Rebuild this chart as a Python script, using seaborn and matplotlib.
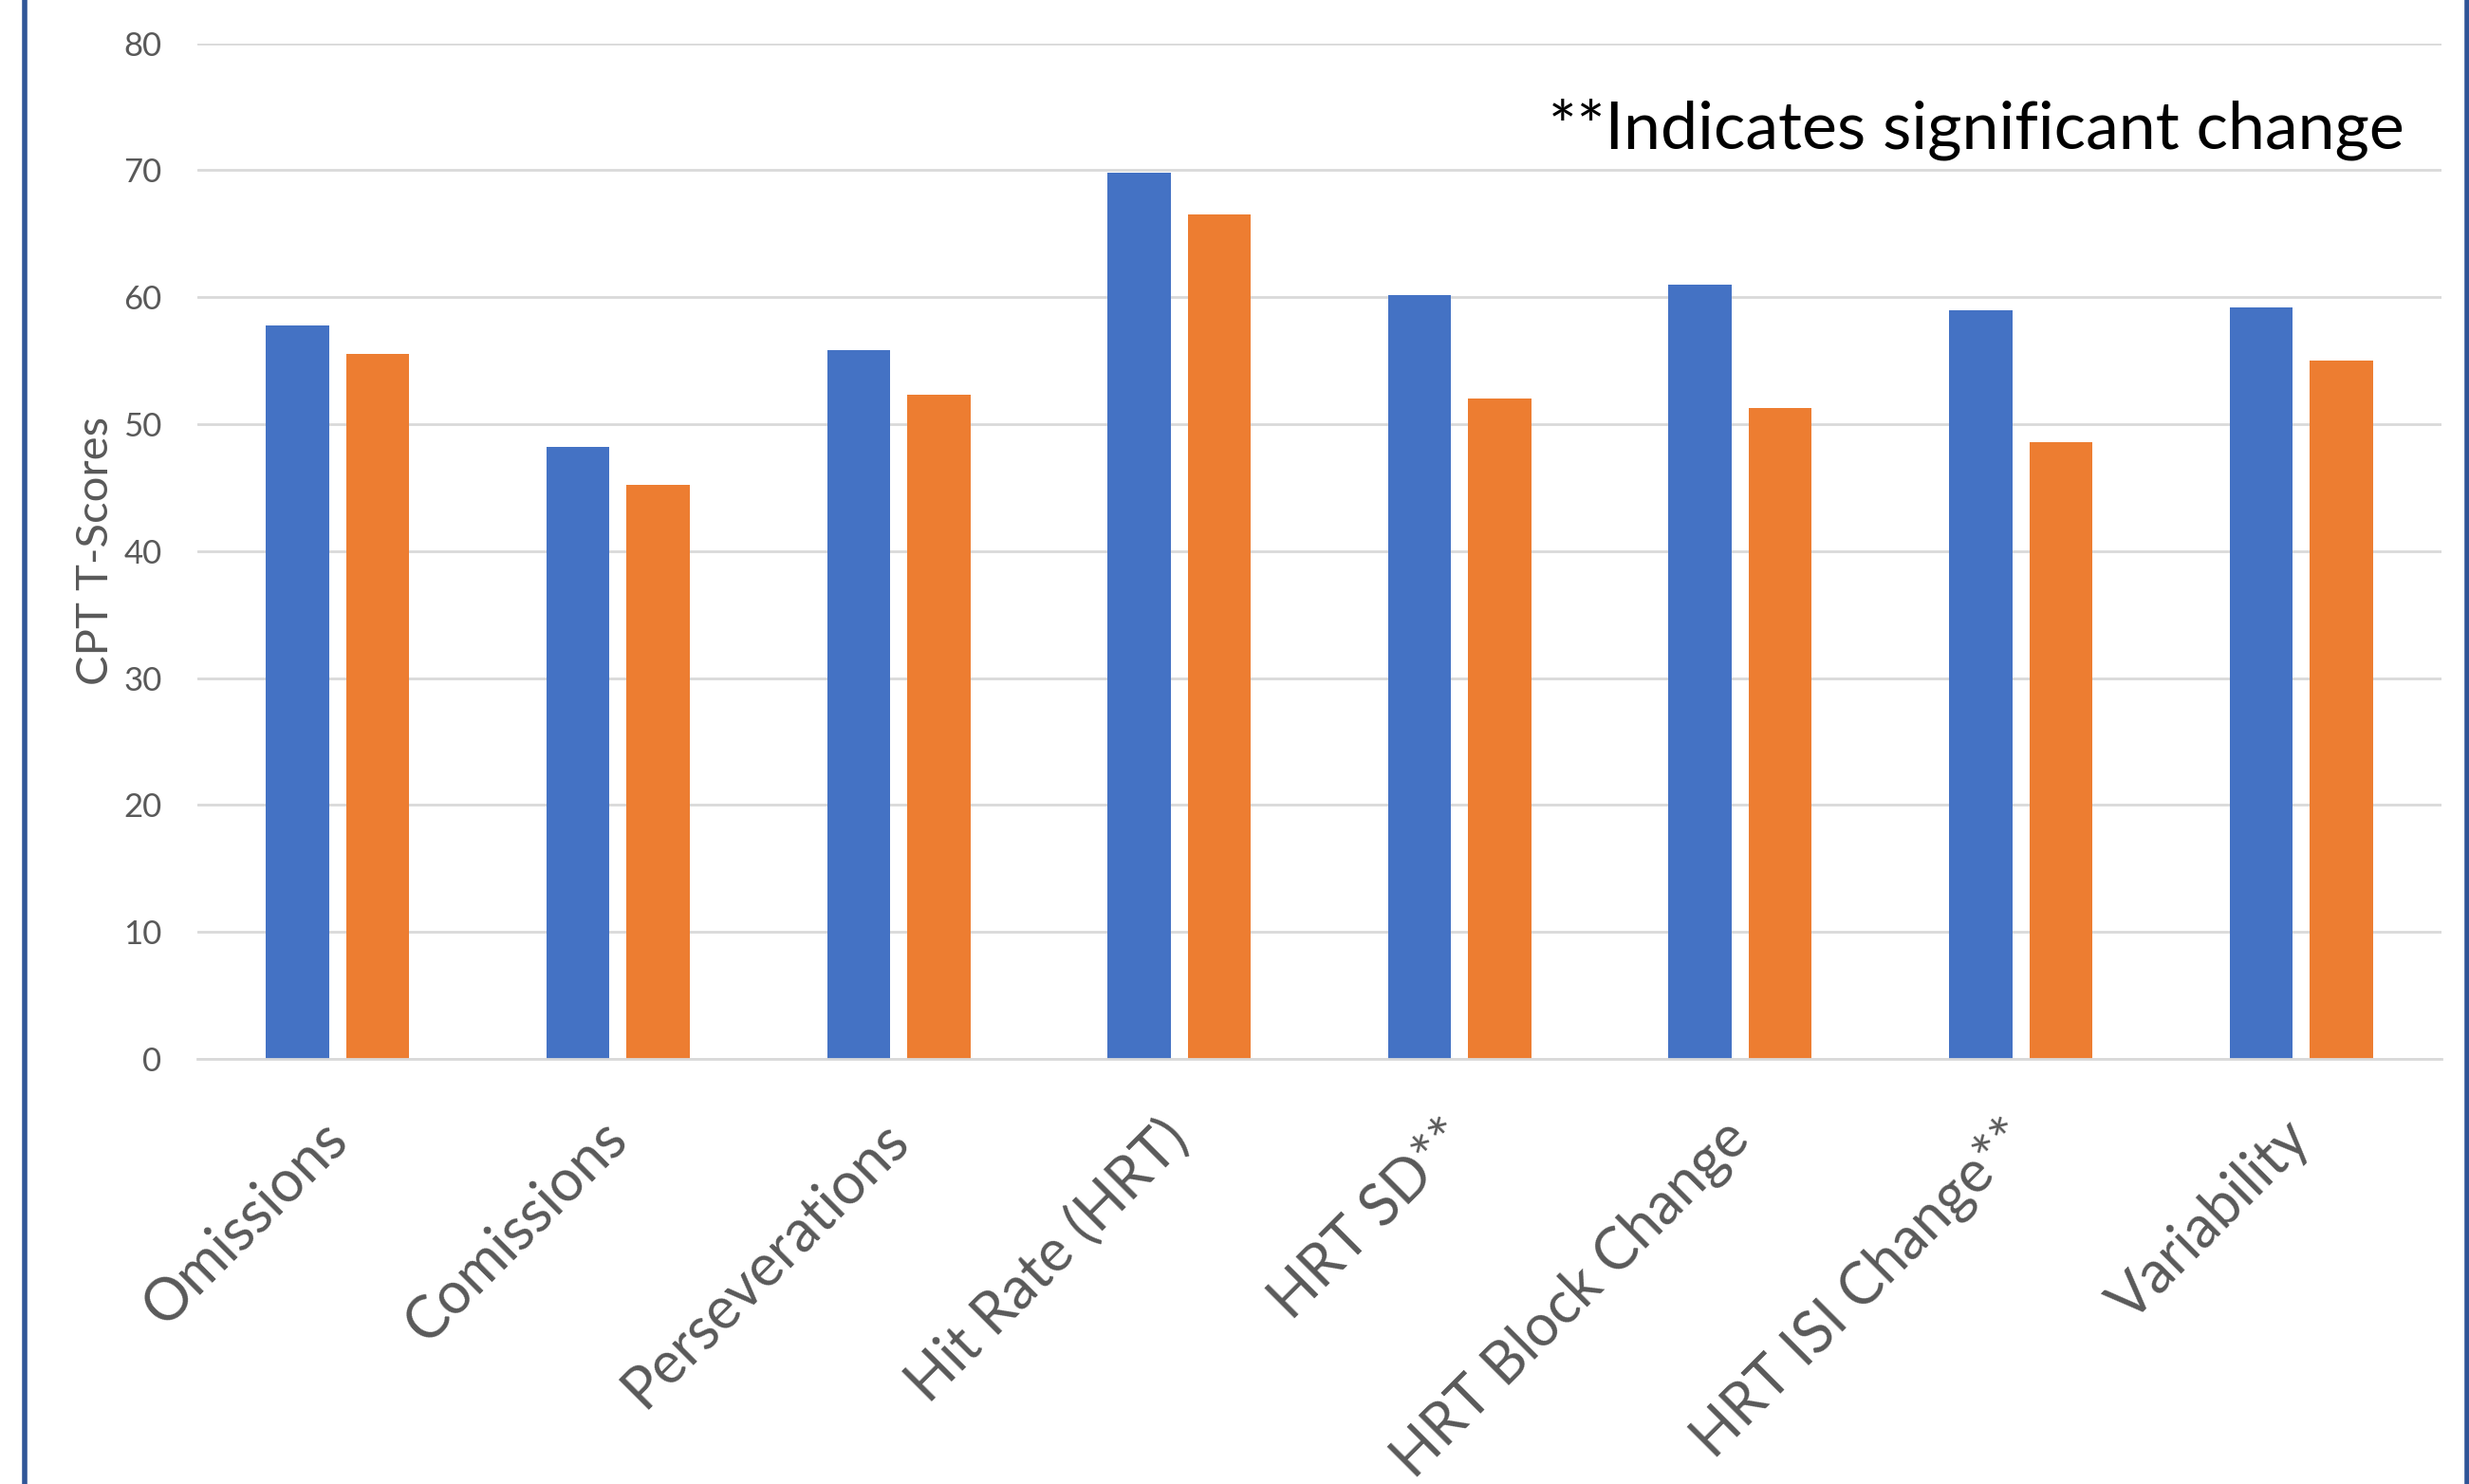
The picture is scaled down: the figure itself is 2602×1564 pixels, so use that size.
import matplotlib
matplotlib.use("Agg")
import matplotlib.pyplot as plt
from matplotlib.lines import Line2D
import matplotlib.transforms as mtransforms
import seaborn as sns
import pandas as pd

# ---- data ----
categories = ["Omissions", "Comissions", "Perseverations", "Hit Rate (HRT)",
              "HRT SD**", "HRT Block Change", "HRT ISI Change**", "Variability"]
series_names = ["Pre", "Post"]
pre_values = [57.8, 48.2, 55.8, 69.8, 60.2, 61.0, 59.0, 59.2]
post_values = [55.5, 45.2, 52.3, 66.5, 52.0, 51.3, 48.6, 55.0]
y_ticks = [0, 10, 20, 30, 40, 50, 60, 70, 80]
y_label = "CPT T-Scores"
note_text = "**Indicates significant change"

df = pd.DataFrame({
    "category": categories * 2,
    "series": [series_names[0]] * len(categories) + [series_names[1]] * len(categories),
    "value": pre_values + post_values,
})

sns.set_theme(style="white")
plt.rcParams["font.family"] = ["Lato", "DejaVu Sans"]

fig = plt.figure(figsize=(26.02, 15.64), dpi=100)
ax = fig.add_axes([208 / 2602, 1 - 1116 / 1564, 2365 / 2602, (1116 - 45.7) / 1564])

sns.barplot(data=df, x="category", y="value", hue="series", order=categories,
            hue_order=series_names, palette=["#4472C4", "#ED7D31"],
            width=0.572, gap=0.213, legend=False, ax=ax, saturation=1,
            linewidth=0)

ax.set_ylim(0, 80)
ax.set_xlim(-0.5, len(categories) - 0.5)
ax.set_yticks(y_ticks)
ax.yaxis.grid(True, color="#D9D9D9", linewidth=2)
ax.set_axisbelow(True)
for s in ["top", "right", "left"]:
    ax.spines[s].set_visible(False)
ax.spines["bottom"].set_color("#D9D9D9")
ax.spines["bottom"].set_linewidth(2)

ax.tick_params(axis="y", length=0, pad=27, labelsize=25, labelcolor="#595959")
ax.tick_params(axis="x", length=0, pad=54, labelsize=44, labelcolor="#595959")
for lbl in ax.get_xticklabels():
    lbl.set_rotation(45)
    lbl.set_ha("right")
    lbl.set_va("center")
    lbl.set_rotation_mode("anchor")

ax.set_xlabel("")
ax.set_ylabel(y_label, fontsize=34, color="#595959")
ax.yaxis.set_label_coords(-0.0364, 0.5)

trans = mtransforms.blended_transform_factory(ax.transAxes, ax.transData)
ax.text(0.9835, 71.7, note_text, transform=trans, ha="right", va="baseline",
        fontsize=50.3, color="black")

# frame border lines at left and right edges
fig.add_artist(Line2D([25.5 / 2602, 25.5 / 2602], [0, 1], color="#2F5597",
                      linewidth=4, transform=fig.transFigure))
fig.add_artist(Line2D([2599.5 / 2602, 2599.5 / 2602], [0, 1], color="#2F5597",
                      linewidth=4, transform=fig.transFigure))

fig.savefig("out.png", dpi=100, facecolor="white")
